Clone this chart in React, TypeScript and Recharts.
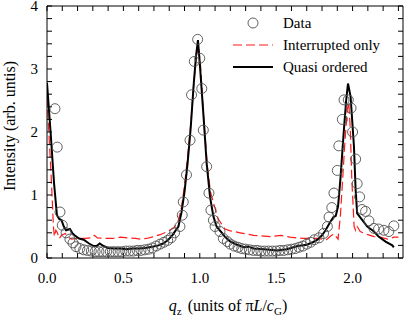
import { ComposedChart, Line, Scatter, XAxis, YAxis, Legend } from "recharts";

const xTicks = [0, 0.1, 0.2, 0.3, 0.4, 0.5, 0.6, 0.7, 0.8, 0.9, 1.0, 1.1, 1.2, 1.3, 1.4, 1.5, 1.6, 1.7, 1.8, 1.9, 2.0, 2.1, 2.2, 2.3];
const xLabelTicks = [0, 0.5, 1.0, 1.5, 2.0];
const yTicks = [0, 0.2, 0.4, 0.6, 0.8, 1, 1.2, 1.4, 1.6, 1.8, 2, 2.2, 2.4, 2.6, 2.8, 3, 3.2, 3.4, 3.6, 3.8, 4];
const yLabelTicks = [0, 1, 2, 3, 4];

// measured points (open circles)
const measured = [
  { q: 0.052, i: 2.37 }, { q: 0.067, i: 1.76 }, { q: 0.085, i: 0.73 }, { q: 0.1, i: 0.52 },
  { q: 0.125, i: 0.4 }, { q: 0.15, i: 0.3 }, { q: 0.17, i: 0.24 }, { q: 0.19, i: 0.18 },
  { q: 0.215, i: 0.15 }, { q: 0.24, i: 0.13 }, { q: 0.265, i: 0.12 }, { q: 0.29, i: 0.11 },
  { q: 0.315, i: 0.1 }, { q: 0.34, i: 0.1 }, { q: 0.365, i: 0.1 }, { q: 0.39, i: 0.1 },
  { q: 0.415, i: 0.1 }, { q: 0.44, i: 0.1 }, { q: 0.465, i: 0.1 }, { q: 0.49, i: 0.1 },
  { q: 0.515, i: 0.11 }, { q: 0.54, i: 0.11 }, { q: 0.565, i: 0.11 }, { q: 0.59, i: 0.12 },
  { q: 0.615, i: 0.12 }, { q: 0.64, i: 0.13 }, { q: 0.665, i: 0.14 }, { q: 0.69, i: 0.16 },
  { q: 0.715, i: 0.19 }, { q: 0.74, i: 0.22 }, { q: 0.765, i: 0.25 }, { q: 0.79, i: 0.28 },
  { q: 0.812, i: 0.32 }, { q: 0.835, i: 0.4 }, { q: 0.87, i: 0.5 }, { q: 0.885, i: 0.68 },
  { q: 0.892, i: 0.89 }, { q: 0.913, i: 1.32 }, { q: 0.936, i: 1.87 }, { q: 0.946, i: 2.59 },
  { q: 0.964, i: 3.12 }, { q: 0.986, i: 3.47 }, { q: 1.0, i: 3.17 }, { q: 1.013, i: 2.69 },
  { q: 1.023, i: 2.03 }, { q: 1.045, i: 1.45 }, { q: 1.06, i: 1.03 }, { q: 1.073, i: 0.76 },
  { q: 1.089, i: 0.6 }, { q: 1.1, i: 0.5 }, { q: 1.132, i: 0.42 }, { q: 1.154, i: 0.31 },
  { q: 1.18, i: 0.26 }, { q: 1.2, i: 0.22 }, { q: 1.225, i: 0.19 }, { q: 1.25, i: 0.17 },
  { q: 1.275, i: 0.15 }, { q: 1.3, i: 0.14 }, { q: 1.325, i: 0.13 }, { q: 1.35, i: 0.12 },
  { q: 1.375, i: 0.12 }, { q: 1.4, i: 0.11 }, { q: 1.425, i: 0.11 }, { q: 1.45, i: 0.11 },
  { q: 1.475, i: 0.11 }, { q: 1.5, i: 0.11 }, { q: 1.525, i: 0.12 }, { q: 1.55, i: 0.12 },
  { q: 1.575, i: 0.13 }, { q: 1.6, i: 0.14 }, { q: 1.625, i: 0.15 }, { q: 1.65, i: 0.17 },
  { q: 1.675, i: 0.19 }, { q: 1.7, i: 0.22 }, { q: 1.725, i: 0.25 }, { q: 1.75, i: 0.29 },
  { q: 1.78, i: 0.32 }, { q: 1.81, i: 0.39 }, { q: 1.835, i: 0.5 }, { q: 1.846, i: 0.65 },
  { q: 1.864, i: 0.8 }, { q: 1.878, i: 1.03 }, { q: 1.9, i: 1.39 }, { q: 1.91, i: 1.78 },
  { q: 1.933, i: 2.2 }, { q: 1.944, i: 2.51 }, { q: 1.972, i: 2.51 }, { q: 1.99, i: 2.38 },
  { q: 2.0, i: 2.0 }, { q: 2.02, i: 1.57 }, { q: 2.03, i: 1.18 }, { q: 2.046, i: 0.97 },
  { q: 2.062, i: 0.77 }, { q: 2.085, i: 0.74 }, { q: 2.107, i: 0.59 }, { q: 2.14, i: 0.47 },
  { q: 2.17, i: 0.46 }, { q: 2.205, i: 0.44 }, { q: 2.237, i: 0.42 }, { q: 2.27, i: 0.51 },
];

// model: interrupted stacking only (red dashed)
const interruptedOnly = [
  { q: 0, i: 2.56 }, { q: 0.012, i: 2.0 }, { q: 0.024, i: 1.45 }, { q: 0.034, i: 0.95 },
  { q: 0.042, i: 0.5 }, { q: 0.048, i: 0.34 }, { q: 0.058, i: 0.44 }, { q: 0.068, i: 0.4 },
  { q: 0.08, i: 0.31 }, { q: 0.095, i: 0.36 }, { q: 0.12, i: 0.39 }, { q: 0.14, i: 0.33 },
  { q: 0.16, i: 0.3 }, { q: 0.2, i: 0.31 }, { q: 0.25, i: 0.31 }, { q: 0.29, i: 0.32 },
  { q: 0.31, i: 0.36 }, { q: 0.33, i: 0.32 }, { q: 0.38, i: 0.31 }, { q: 0.43, i: 0.31 },
  { q: 0.48, i: 0.33 }, { q: 0.53, i: 0.32 }, { q: 0.58, i: 0.31 }, { q: 0.61, i: 0.3 },
  { q: 0.65, i: 0.31 }, { q: 0.7, i: 0.34 }, { q: 0.74, i: 0.37 }, { q: 0.79, i: 0.42 },
  { q: 0.83, i: 0.48 }, { q: 0.86, i: 0.6 }, { q: 0.88, i: 0.8 }, { q: 0.9, i: 1.15 },
  { q: 0.92, i: 1.6 }, { q: 0.94, i: 2.1 }, { q: 0.96, i: 2.75 }, { q: 0.975, i: 3.15 },
  { q: 0.99, i: 3.38 }, { q: 1.005, i: 3.05 }, { q: 1.025, i: 2.25 }, { q: 1.05, i: 1.45 },
  { q: 1.07, i: 1.05 }, { q: 1.09, i: 0.87 }, { q: 1.12, i: 0.62 }, { q: 1.165, i: 0.46 },
  { q: 1.2, i: 0.43 }, { q: 1.265, i: 0.4 }, { q: 1.353, i: 0.36 }, { q: 1.46, i: 0.34 },
  { q: 1.53, i: 0.36 }, { q: 1.59, i: 0.33 }, { q: 1.68, i: 0.31 }, { q: 1.77, i: 0.31 },
  { q: 1.83, i: 0.29 }, { q: 1.856, i: 0.35 }, { q: 1.88, i: 0.38 }, { q: 1.905, i: 0.3 },
  { q: 1.92, i: 0.66 }, { q: 1.935, i: 1.25 }, { q: 1.95, i: 1.85 }, { q: 1.965, i: 2.35 },
  { q: 1.975, i: 2.47 }, { q: 1.985, i: 2.05 }, { q: 1.995, i: 1.25 }, { q: 2.01, i: 0.5 },
  { q: 2.02, i: 0.44 }, { q: 2.03, i: 0.5 }, { q: 2.05, i: 0.42 }, { q: 2.1, i: 0.37 },
  { q: 2.14, i: 0.34 }, { q: 2.18, i: 0.33 }, { q: 2.23, i: 0.3 }, { q: 2.27, i: 0.33 },
  { q: 2.3, i: 0.33 },
];

// model: quasi ordered (black solid)
const quasiOrdered = [
  { q: 0, i: 2.78 }, { q: 0.024, i: 1.98 }, { q: 0.046, i: 1.19 }, { q: 0.065, i: 0.68 },
  { q: 0.08, i: 0.62 }, { q: 0.095, i: 0.6 }, { q: 0.11, i: 0.5 }, { q: 0.125, i: 0.44 },
  { q: 0.15, i: 0.46 }, { q: 0.165, i: 0.4 }, { q: 0.18, i: 0.36 }, { q: 0.21, i: 0.31 },
  { q: 0.24, i: 0.29 }, { q: 0.275, i: 0.23 }, { q: 0.305, i: 0.19 }, { q: 0.325, i: 0.19 },
  { q: 0.345, i: 0.23 }, { q: 0.37, i: 0.19 }, { q: 0.4, i: 0.16 }, { q: 0.44, i: 0.15 },
  { q: 0.48, i: 0.15 }, { q: 0.52, i: 0.14 }, { q: 0.56, i: 0.15 }, { q: 0.6, i: 0.15 },
  { q: 0.64, i: 0.16 }, { q: 0.69, i: 0.18 }, { q: 0.73, i: 0.2 }, { q: 0.76, i: 0.23 },
  { q: 0.79, i: 0.28 }, { q: 0.82, i: 0.36 }, { q: 0.84, i: 0.43 }, { q: 0.86, i: 0.5 },
  { q: 0.88, i: 0.72 }, { q: 0.9, i: 1.05 }, { q: 0.92, i: 1.5 }, { q: 0.94, i: 2.05 },
  { q: 0.96, i: 2.75 }, { q: 0.975, i: 3.2 }, { q: 0.988, i: 3.46 }, { q: 1.0, i: 3.09 },
  { q: 1.023, i: 2.3 }, { q: 1.045, i: 1.5 }, { q: 1.067, i: 0.97 }, { q: 1.089, i: 0.66 },
  { q: 1.11, i: 0.5 }, { q: 1.13, i: 0.44 }, { q: 1.145, i: 0.4 }, { q: 1.16, i: 0.35 },
  { q: 1.18, i: 0.3 }, { q: 1.2, i: 0.26 }, { q: 1.244, i: 0.21 }, { q: 1.287, i: 0.17 },
  { q: 1.32, i: 0.18 }, { q: 1.353, i: 0.15 }, { q: 1.42, i: 0.14 }, { q: 1.506, i: 0.12 },
  { q: 1.57, i: 0.14 }, { q: 1.64, i: 0.19 }, { q: 1.7, i: 0.21 }, { q: 1.74, i: 0.25 },
  { q: 1.77, i: 0.29 }, { q: 1.8, i: 0.36 }, { q: 1.823, i: 0.44 }, { q: 1.856, i: 0.58 },
  { q: 1.875, i: 0.65 }, { q: 1.89, i: 0.67 }, { q: 1.905, i: 0.82 }, { q: 1.92, i: 1.24 },
  { q: 1.943, i: 2.03 }, { q: 1.958, i: 2.5 }, { q: 1.97, i: 2.77 }, { q: 1.987, i: 2.56 },
  { q: 2.009, i: 1.77 }, { q: 2.02, i: 1.08 }, { q: 2.03, i: 0.71 }, { q: 2.064, i: 0.6 },
  { q: 2.096, i: 0.5 }, { q: 2.14, i: 0.42 }, { q: 2.17, i: 0.34 }, { q: 2.216, i: 0.26 },
  { q: 2.26, i: 0.2 }, { q: 2.27, i: 0.17 },
];

const serif = "'Liberation Serif', 'Times New Roman', serif";
const tickFont = { fill: "#000", fontSize: 15, fontFamily: serif };

const near = (list: number[], v: number) => list.some((t) => Math.abs(t - v) < 1e-6);

function Ring(props: any) {
  return <circle cx={props.cx} cy={props.cy} r={5} fill="none" stroke="#505050" strokeWidth={0.9} />;
}

function LegendBox() {
  const row = { display: "flex", alignItems: "center", height: 22 };
  const text = { marginLeft: 7, fontFamily: serif, fontSize: 15, color: "#000", lineHeight: "22px" };
  return (
    <div>
      <div style={row}>
        <svg width={46} height={22}>
          <circle cx={23} cy={11} r={5} fill="none" stroke="#505050" strokeWidth={0.9} />
        </svg>
        <span style={text}>Data</span>
      </div>
      <div style={row}>
        <svg width={46} height={22}>
          <line x1={3} x2={43} y1={11} y2={11} stroke="#ff1a1a" strokeWidth={1.2} strokeDasharray="9 4" />
        </svg>
        <span style={text}>Interrupted only</span>
      </div>
      <div style={row}>
        <svg width={46} height={22}>
          <line x1={3} x2={43} y1={11} y2={11} stroke="#000" strokeWidth={2} />
        </svg>
        <span style={text}>Quasi ordered</span>
      </div>
    </div>
  );
}

export default function App() {
  return (
    <div style={{ position: "absolute", left: 0, top: 0, background: "#fff" }}>
      <ComposedChart width={409} height={318} margin={{ top: 5, right: 5, bottom: 0, left: 7 }}>
        <XAxis
          xAxisId="bottom"
          dataKey="q"
          type="number"
          domain={[0, 2.33]}
          allowDataOverflow
          ticks={xTicks}
          interval={0}
          height={60}
          tickSize={-5}
          tickMargin={19}
          tickFormatter={(v: number) => (near(xLabelTicks, v) ? v.toFixed(1) : "")}
          tick={tickFont}
          axisLine={{ stroke: "#000" }}
          tickLine={{ stroke: "#000" }}
          label={{
            content: () => (
              <text x={228} y={311} textAnchor="middle" fontFamily={serif} fontSize={16} fill="#000">
                <tspan fontStyle="italic">q</tspan>
                <tspan fontSize={11} dy={4}>z</tspan>
                <tspan dy={-4} dx={6}>(units of π</tspan>
                <tspan fontStyle="italic">L</tspan>
                <tspan>/</tspan>
                <tspan fontStyle="italic">c</tspan>
                <tspan fontSize={11} dy={4}>G</tspan>
                <tspan dy={-4}>)</tspan>
              </text>
            ),
          }}
        />
        <XAxis
          xAxisId="top"
          orientation="top"
          dataKey="q"
          type="number"
          domain={[0, 2.33]}
          allowDataOverflow
          ticks={xTicks}
          interval={0}
          height={1}
          tickSize={-5}
          tickFormatter={() => ""}
          axisLine={{ stroke: "#000" }}
          tickLine={{ stroke: "#000" }}
        />
        <YAxis
          yAxisId="left"
          type="number"
          domain={[0, 4]}
          allowDataOverflow
          ticks={yTicks}
          interval={0}
          width={40}
          tickSize={-5}
          tickMargin={14}
          tickFormatter={(v: number) => (near(yLabelTicks, v) ? String(Math.round(v)) : "")}
          tick={tickFont}
          axisLine={{ stroke: "#000" }}
          tickLine={{ stroke: "#000" }}
          label={{
            content: () => (
              <text
                x={15}
                y={126}
                transform="rotate(-90 15 126)"
                textAnchor="middle"
                fontFamily={serif}
                fontSize={16}
                fill="#000"
              >
                Intensity (arb. untis)
              </text>
            ),
          }}
        />
        <YAxis
          yAxisId="right"
          orientation="right"
          type="number"
          domain={[0, 4]}
          allowDataOverflow
          ticks={yTicks}
          interval={0}
          width={1}
          tickSize={-5}
          tickFormatter={() => ""}
          axisLine={{ stroke: "#000" }}
          tickLine={{ stroke: "#000" }}
        />
        <Legend
          verticalAlign="middle"
          content={() => <LegendBox />}
          wrapperStyle={{ position: "absolute", left: 230, top: 12, width: 170 }}
        />
        <Scatter
          name="Data"
          xAxisId="bottom"
          yAxisId="left"
          data={measured}
          dataKey="i"
          shape={Ring}
          isAnimationActive={false}
        />
        <Line
          name="Interrupted only"
          xAxisId="bottom"
          yAxisId="left"
          data={interruptedOnly}
          dataKey="i"
          type="linear"
          stroke="#ff1a1a"
          strokeWidth={1.2}
          strokeDasharray="9 4"
          dot={false}
          activeDot={false}
          isAnimationActive={false}
        />
        <Line
          name="Quasi ordered"
          xAxisId="bottom"
          yAxisId="left"
          data={quasiOrdered}
          dataKey="i"
          type="linear"
          stroke="#000"
          strokeWidth={2}
          dot={false}
          activeDot={false}
          isAnimationActive={false}
        />
      </ComposedChart>
    </div>
  );
}
